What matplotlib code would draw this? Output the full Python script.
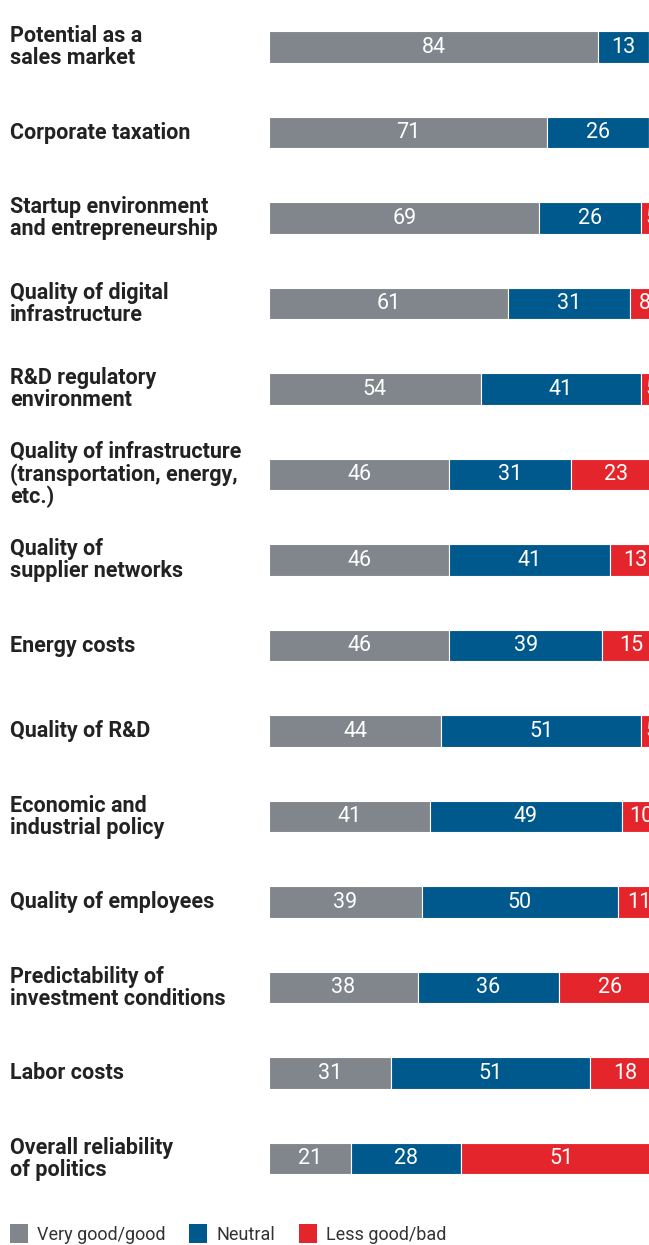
import numpy as np
import matplotlib.pyplot as plt
from matplotlib.patches import Patch
from matplotlib.transforms import blended_transform_factory

plt.rcParams['font.family'] = ['Roboto', 'DejaVu Sans']

factors = [
    "Potential as a\nsales market",
    "Corporate taxation",
    "Startup environment\nand entrepreneurship",
    "Quality of digital\ninfrastructure",
    "R&D regulatory\nenvironment",
    "Quality of infrastructure\n(transportation, energy,\netc.)",
    "Quality of\nsupplier networks",
    "Energy costs",
    "Quality of R&D",
    "Economic and\nindustrial policy",
    "Quality of employees",
    "Predictability of\ninvestment conditions",
    "Labor costs",
    "Overall reliability\nof politics",
]
good = [84, 71, 69, 61, 54, 46, 46, 46, 44, 41, 39, 38, 31, 21]
neutral = [13, 26, 26, 31, 41, 31, 41, 39, 51, 49, 50, 36, 51, 28]
bad = [3, 3, 5, 8, 5, 23, 13, 15, 5, 10, 11, 26, 18, 51]

series = [("Very good/good", good, "#80868c"),
          ("Neutral", neutral, "#00598c"),
          ("Less good/bad", bad, "#e4262c")]

W, H, DPI = 649, 1245, 100
fig = plt.figure(figsize=(W / DPI, H / DPI), dpi=DPI)
# bar area runs a little past the right edge of the canvas
ax = fig.add_axes([269 / W, 0, 392 / W, 1])

y = np.arange(len(factors))
left = np.zeros(len(factors))
for name, vals, color in series:
    vals = np.array(vals)
    ax.barh(y, vals, left=left, height=0.37, color=color,
            edgecolor="white", linewidth=0.8)
    for yi, l, v in zip(y, left, vals):
        if v >= 5:
            ax.text(l + v / 2, yi, str(v), ha="center", va="center",
                    color="white", fontsize=15.5)
        else:
            ax.text(l + v / 2, yi - 0.4, str(v), ha="center", va="center",
                    color="#333333", fontsize=15.5)
    left += vals

ax.set_xlim(0, 100)
ax.set_ylim(14.01, -0.55)
ax.axis("off")

trans = blended_transform_factory(fig.transFigure, ax.transData)
for yi, label in zip(y, factors):
    ax.text(10 / W, yi, label, transform=trans, ha="left", va="center",
            fontsize=15.5, fontweight="bold", color="#222222",
            linespacing=1.0)

handles = [Patch(facecolor=c, label=n) for n, _, c in series]
fig.legend(handles=handles, loc="lower left", bbox_to_anchor=(-6 / W, -15 / H),
           ncol=3, frameon=False, fontsize=13, handlelength=1.0,
           handleheight=1.2, handletextpad=0.5, columnspacing=1.3,
           labelcolor="#333333")

fig.savefig("out.png", dpi=DPI)
